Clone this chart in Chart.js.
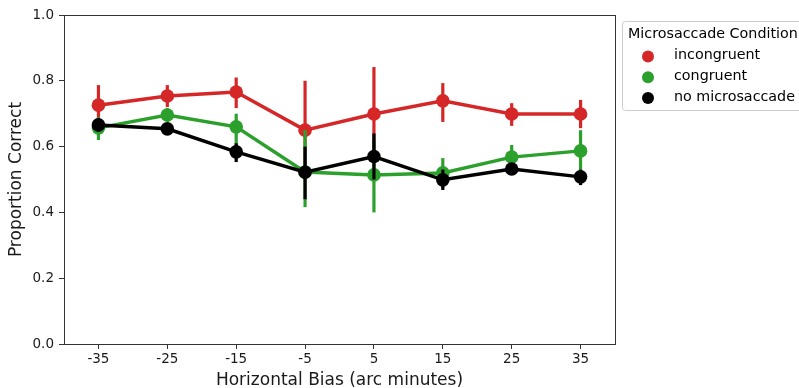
<!DOCTYPE html>
<html>
<head>
<meta charset="utf-8">
<script src="https://cdn.jsdelivr.net/npm/chart.js@4/dist/chart.umd.min.js"></script>
<style>
html,body{margin:0;padding:0;background:#fff;}
#wrap{width:799px;height:388px;position:relative;}
</style>
</head>
<body>
<div id="wrap"><canvas id="c" width="799" height="388"></canvas></div>
<script>
const categories = ['-35','-25','-15','-5','5','15','25','35'];
const seriesNames = ['incongruent','congruent','no microsaccade'];
const seriesColors = ['#d62728','#2ca02c','#000000'];
const incongruent = [0.726,0.754,0.766,0.650,0.699,0.739,0.699,0.699];
const incongruentLo = [0.665,0.720,0.717,0.500,0.555,0.675,0.663,0.656];
const incongruentHi = [0.787,0.787,0.810,0.800,0.842,0.793,0.732,0.742];
const congruent = [0.657,0.696,0.660,0.523,0.514,0.520,0.568,0.587];
const congruentLo = [0.620,0.675,0.590,0.416,0.400,0.475,0.530,0.520];
const congruentHi = [0.690,0.717,0.700,0.650,0.620,0.565,0.605,0.650];
const noMicro = [0.666,0.654,0.584,0.522,0.570,0.499,0.532,0.508];
const noMicroLo = [0.645,0.640,0.553,0.440,0.500,0.468,0.515,0.483];
const noMicroHi = [0.685,0.668,0.610,0.600,0.640,0.530,0.548,0.530];
const yTicks = [0,0.2,0.4,0.6,0.8,1.0];
const legendTitle = 'Microsaccade Condition';
const xTitle = 'Horizontal Bias (arc minutes)';
const yTitle = 'Proportion Correct';

const values = [incongruent, congruent, noMicro];
const lows = [incongruentLo, congruentLo, noMicroLo];
const highs = [incongruentHi, congruentHi, noMicroHi];
const drawOrder = [2, 1, 0];

const FONT = "'DejaVu Sans', sans-serif";

const errPlugin = {
  id: 'errbars',
  beforeDatasetDraw(chart, args) {
    const i = args.index;
    const ctx = chart.ctx;
    const xs = chart.scales.x, ys = chart.scales.y;
    ctx.save();
    ctx.strokeStyle = seriesColors[i];
    ctx.lineWidth = 3.2;
    ctx.lineCap = 'butt';
    for (let k = 0; k < categories.length; k++) {
      const x = xs.getPixelForValue(k);
      ctx.beginPath();
      ctx.moveTo(x, ys.getPixelForValue(lows[i][k]));
      ctx.lineTo(x, ys.getPixelForValue(highs[i][k]));
      ctx.stroke();
    }
    ctx.restore();
  }
};

const frameLegendPlugin = {
  id: 'frameLegend',
  afterDraw(chart) {
    const ctx = chart.ctx;
    const a = chart.chartArea;
    ctx.save();
    ctx.strokeStyle = '#333';
    ctx.lineWidth = 1;
    ctx.strokeRect(Math.round(a.left)+0.5, Math.round(a.top)+0.5, Math.round(a.right-a.left), Math.round(a.bottom-a.top));
    // legend
    const lx = 622, ly = 21, lw = 180, lh = 89;
    ctx.strokeStyle = '#cccccc';
    ctx.lineWidth = 1;
    ctx.beginPath();
    if (ctx.roundRect) ctx.roundRect(lx+0.5, ly+0.5, lw, lh, 3); else ctx.rect(lx+0.5, ly+0.5, lw, lh);
    ctx.fillStyle = 'rgba(255,255,255,0.8)';
    ctx.fill();
    ctx.stroke();
    ctx.fillStyle = '#000';
    ctx.font = "14.3px " + FONT;
    ctx.textBaseline = 'middle';
    ctx.textAlign = 'left';
    ctx.fillText(legendTitle, 628, 34);
    for (let i = 0; i < seriesNames.length; i++) {
      const y = 56.5 + i * 20.7;
      ctx.beginPath();
      ctx.arc(648, y, 6, 0, Math.PI * 2);
      ctx.fillStyle = seriesColors[i];
      ctx.fill();
      ctx.fillStyle = '#000';
      ctx.fillText(seriesNames[i], 674, y - 1);
    }
    ctx.restore();
  }
};

const datasets = seriesNames.map((n, i) => ({
  label: n,
  data: values[i],
  borderColor: seriesColors[i],
  backgroundColor: seriesColors[i],
  borderWidth: 3.5,
  pointRadius: 6.8,
  pointHoverRadius: 6.8,
  pointBorderWidth: 0,
  tension: 0,
  order: drawOrder[i]
}));

new Chart(document.getElementById('c'), {
  type: 'line',
  data: { labels: categories, datasets },
  options: {
    responsive: false,
    animation: false,
    events: [],
    layout: { padding: { left: 0, right: 184, top: 15, bottom: 0 } },
    plugins: { legend: { display: false }, tooltip: { enabled: false } },
    scales: {
      x: {
        offset: true,
        afterFit(scale) { scale.height = 44; },
        grid: { display: true, drawOnChartArea: false, tickLength: 5, color: '#333', offset: false },
        border: { display: true, color: '#333', width: 1 },
        ticks: { color: '#1a1a1a', font: { family: FONT, size: 13.5 }, padding: 2, maxRotation: 0 },
        title: { display: true, text: xTitle, color: '#1a1a1a', font: { family: FONT, size: 17 }, padding: { top: 0, bottom: -3 } }
      },
      y: {
        min: 0, max: 1,
        afterFit(scale) { scale.width = 64; },
        afterBuildTicks(scale) { scale.ticks = yTicks.map(v => ({ value: v })); },
        grid: { display: true, drawOnChartArea: false, tickLength: 5, color: '#333' },
        border: { display: true, color: '#333', width: 1 },
        ticks: { color: '#1a1a1a', font: { family: FONT, size: 13.5 }, padding: 5, callback: v => Number(v).toFixed(1) },
        title: { display: true, text: yTitle, color: '#1a1a1a', font: { family: FONT, size: 17 }, padding: { top: 6, bottom: 0 } }
      }
    }
  },
  plugins: [errPlugin, frameLegendPlugin]
});
</script>
</body>
</html>
